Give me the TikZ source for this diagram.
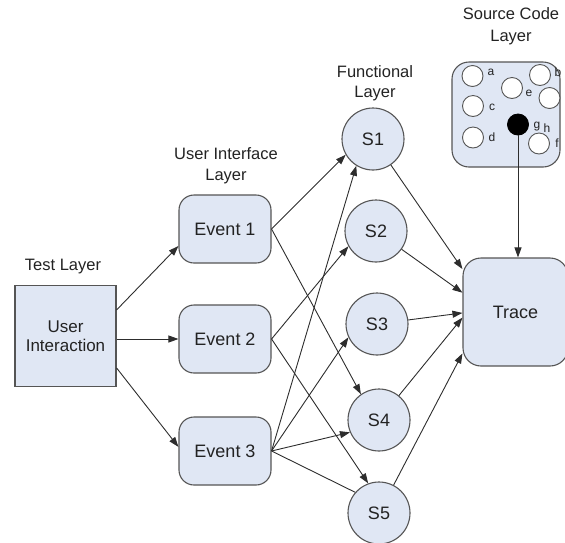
\documentclass[tikz,border=0pt]{standalone}
\usepackage{fontspec}
\setmainfont{Liberation Sans}
\usetikzlibrary{arrows.meta}

\definecolor{boxfill}{RGB}{224,231,244}
\definecolor{boxline}{RGB}{85,85,85}
\definecolor{wire}{RGB}{45,45,45}
\definecolor{ink}{RGB}{35,35,35}

\begin{document}
\begin{tikzpicture}[x=1pt,y=-1pt,
  box/.style={draw=boxline, fill=boxfill, line width=1.1pt, inner sep=0pt, text=ink},
  evt/.style={box, rounded corners=15pt, minimum width=92pt, minimum height=68pt,
              font=\fontsize{18}{20}\selectfont},
  fn/.style={box, circle, minimum size=62pt, font=\fontsize{18}{20}\selectfont},
  layerlbl/.style={align=center, inner sep=0pt, text=ink},
  srcdot/.style={circle, draw=boxline, fill=white, line width=0.9pt, minimum size=21pt, inner sep=0pt},
  srclbl/.style={font=\fontsize{12}{12}\selectfont, inner sep=0pt, text=ink},
  arr/.style={draw=wire, line width=0.9pt, -{Triangle[length=10pt,width=7pt]}},
  link/.style={draw=wire, line width=0.9pt}]

\useasboundingbox (0,0) rectangle (565,542);

% ---- test layer ----
\node[layerlbl, font=\fontsize{16.5}{20}\selectfont] (tl) at (63,267) {Test Layer};
\node[box, minimum width=101pt, minimum height=101pt, align=center,
      font=\fontsize{17}{18.5}\selectfont] (ui) at (65.5,336) {User\\Interaction};

% ---- user interface layer ----
\node[layerlbl, font=\fontsize{16.5}{21}\selectfont] (uil) at (226,166) {User Interface\\Layer};
\node[evt] (e1) at (225,229) {Event 1};
\node[evt] (e2) at (225,339) {Event 2};
\node[evt] (e3) at (225,451) {Event 3};

% ---- functional layer ----
\node[layerlbl, font=\fontsize{16.5}{20}\selectfont] (fl) at (375,83) {Functional\\Layer};
\node[fn] (s1) at (373,139) {S1};
\node[fn] (s2) at (376,231) {S2};
\node[fn] (s3) at (377,324) {S3};
\node[fn] (s4) at (379,420) {S4};
\node[fn] (s5) at (379,513) {S5};

% ---- trace ----
\node[box, rounded corners=18pt, minimum width=105pt, minimum height=108pt,
      font=\fontsize{18}{20}\selectfont] (tr) at (515.5,312) {Trace};

% ---- source code layer ----
\node[layerlbl, font=\fontsize{16.5}{22}\selectfont] (scl) at (511,26) {Source Code\\Layer};
\node[box, rounded corners=17pt, minimum width=108pt, minimum height=105pt] (sc) at (506,114.5) {};
\node[srcdot] (a) at (472.5,76) {};
\node[srcdot] (b) at (540,75) {};
\node[srcdot] (e) at (512,88) {};
\node[srcdot] (h) at (549.5,98) {};
\node[srcdot] (c) at (473,106) {};
\node[srcdot, fill=black, draw=black] (g) at (518,124.5) {};
\node[srcdot] (d) at (473,137.5) {};
\node[srcdot] (f) at (539,143.5) {};
\node[srclbl] (la) at (491,72) {a};
\node[srclbl] (lb) at (558,72) {b};
\node[srclbl] (le) at (529,93) {e};
\node[srclbl] (lc) at (492,107) {c};
\node[srclbl] (lg) at (537,127) {g};
\node[srclbl] (lh) at (547,128) {h};
\node[srclbl] (ld) at (492,137) {d};
\node[srclbl] (lf) at (557,143) {f};

% ---- connectors: test -> UI ----
\draw[arr] (ui.27) -- (e1.200);
\draw[arr] (ui.east |- e2.west) -- (e2.west);
\draw[arr] (ui.-32) -- (e3.175);

% ---- connectors: UI -> functional ----
\draw[arr] (e1.east) -- (s1.210);
\draw[arr] (e1.east) -- (s4.125);
\draw[arr] (e2.east) -- (s2.209);
\draw[arr] (e2.east) -- (s5.110);
\draw[arr] (e3.east) -- (s1.238);
\draw[arr] (e3.east) -- (s3.205);
\draw[arr] (e3.east) -- (s4.203);
\draw[link] (e3.east) -- (s5.139);

% ---- connectors: functional -> trace ----
\draw[arr] (s1) -- (tr.141);
\draw[arr] (s2) -- (tr.160);
\draw[arr] (s3) -- (tr.181);
\draw[arr] (s4) -- (tr.186);
\draw[arr] (s5) -- (tr.218);

% ---- source code -> trace ----
\draw[arr] (g) -- (g |- tr.north);

\end{tikzpicture}
\end{document}
